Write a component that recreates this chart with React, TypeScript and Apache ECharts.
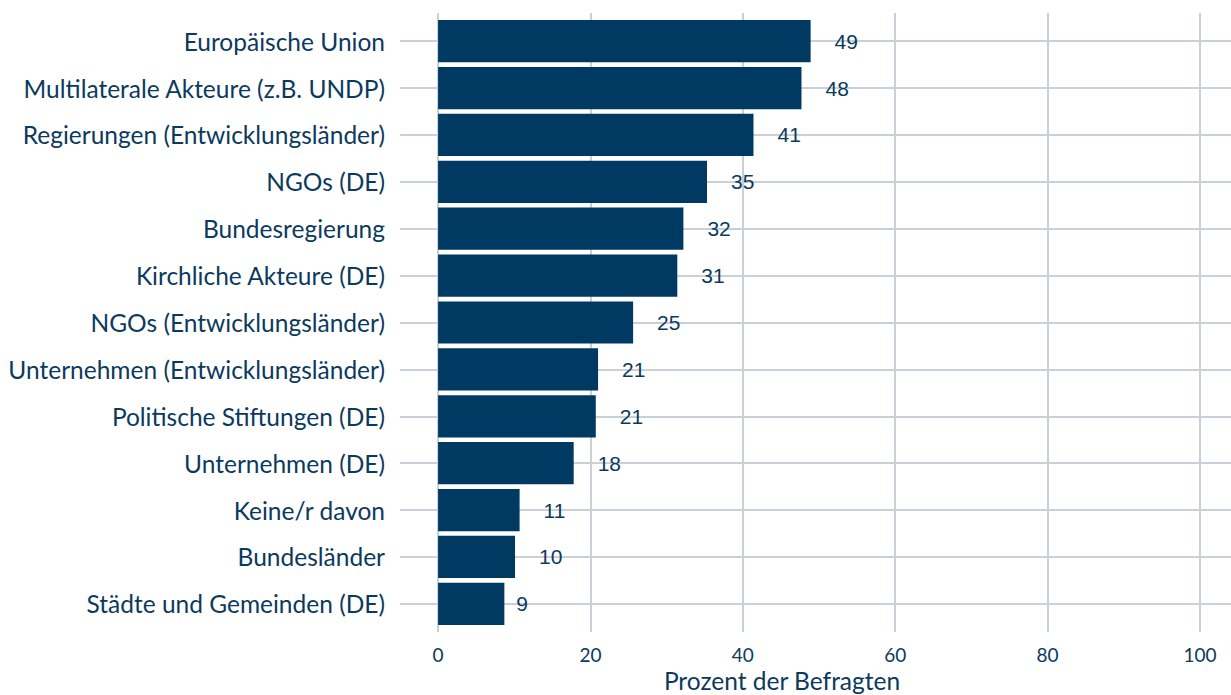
import React, { useEffect, useRef } from "react";
import * as echarts from "echarts";

const categories = [
  "Europäische Union",
  "Multilaterale Akteure (z.B. UNDP)",
  "Regierungen (Entwicklungsländer)",
  "NGOs (DE)",
  "Bundesregierung",
  "Kirchliche Akteure (DE)",
  "NGOs (Entwicklungsländer)",
  "Unternehmen (Entwicklungsländer)",
  "Politische Stiftungen (DE)",
  "Unternehmen (DE)",
  "Keine/r davon",
  "Bundesländer",
  "Städte und Gemeinden (DE)",
];
const values = [48.9, 47.7, 41.4, 35.3, 32.2, 31.4, 25.6, 21.0, 20.7, 17.8, 10.7, 10.1, 8.7];
const valueLabels = ["49", "48", "41", "35", "32", "31", "25", "21", "21", "18", "11", "10", "9"];
const xTicks = [0, 20, 40, 60, 80, 100];
const axisTitle = "Prozent der Befragten";

const BAR = "#003a62";
const TEXT = "#0c3a5e";
const GRID = "#c8d1d9";
const CAT_FONT = "Lato, 'Open Sans', sans-serif";

export default function App() {
  const ref = useRef<HTMLDivElement>(null);
  useEffect(() => {
    if (!ref.current) return;
    const chart = echarts.init(ref.current, undefined, { renderer: "svg" });
    const idx = categories.map((_, i) => i + 1);
    chart.setOption({
      animation: false,
      grid: { left: 400, top: 13, width: 838, height: 619, containLabel: false },
      xAxis: {
        type: "value",
        min: -5,
        max: 105,
        axisLine: { show: false },
        axisTick: { show: false },
        splitLine: { show: false },
        axisLabel: {
          customValues: xTicks,
          color: TEXT,
          fontSize: 19,
          fontFamily: CAT_FONT,
          margin: 13,
        },
      },
      yAxis: {
        type: "value",
        inverse: true,
        min: 0.4,
        max: 13.6,
        axisLine: { show: false },
        axisTick: { show: false },
        splitLine: { show: false },
        axisLabel: {
          customValues: idx,
          formatter: (v: number) => categories[Math.round(v) - 1] ?? "",
          color: TEXT,
          fontSize: 24.5,
          fontFamily: CAT_FONT,
          margin: 15,
        },
      },
      graphic: [
        {
          type: "text",
          x: 782,
          y: 680,
          style: {
            text: axisTitle,
            textAlign: "center",
            textVerticalAlign: "middle",
            fill: TEXT,
            fontSize: 24.5,
            fontFamily: CAT_FONT,
          },
        },
      ],
      series: [
        {
          type: "line",
          data: [],
          z: 1,
          silent: true,
          markLine: {
            z: 1,
            silent: true,
            symbol: "none",
            label: { show: false },
            lineStyle: { color: GRID, width: 2, type: "solid" },
            data: [
              ...xTicks.map((x) => ({ xAxis: x })),
              ...idx.map((y) => ({ yAxis: y })),
            ],
          },
        },
        {
          type: "custom",
          z: 3,
          encode: { x: 0, y: 1 },
          data: values.map((v, i) => [v, i + 1]),
          renderItem: (params: any, api: any) => {
            const v = api.value(0);
            const y = api.value(1);
            const start = api.coord([0, y]);
            const end = api.coord([v, y]);
            const band = api.size([0, 1])[1];
            const h = band * 0.9;
            const label = valueLabels[params.dataIndex];
            const w = label.length * 12;
            return {
              type: "group",
              children: [
                {
                  type: "rect",
                  shape: { x: start[0], y: start[1] - h / 2, width: end[0] - start[0], height: h },
                  style: { fill: BAR },
                },
                {
                  type: "text",
                  x: end[0] + w,
                  y: end[1],
                  style: {
                    text: label,
                    textAlign: "left",
                    textVerticalAlign: "middle",
                    fill: TEXT,
                    font: "21px 'Liberation Sans', Arial, sans-serif",
                  },
                },
              ],
            };
          },
        },
      ],
    });
    return () => chart.dispose();
  }, []);
  return (
    <div style={{ position: "absolute", left: 0, top: 0, width: 1231, height: 695, overflow: "hidden", background: "#fff" }}>
      <div ref={ref} style={{ width: 1250, height: 695 }} />
    </div>
  );
}
